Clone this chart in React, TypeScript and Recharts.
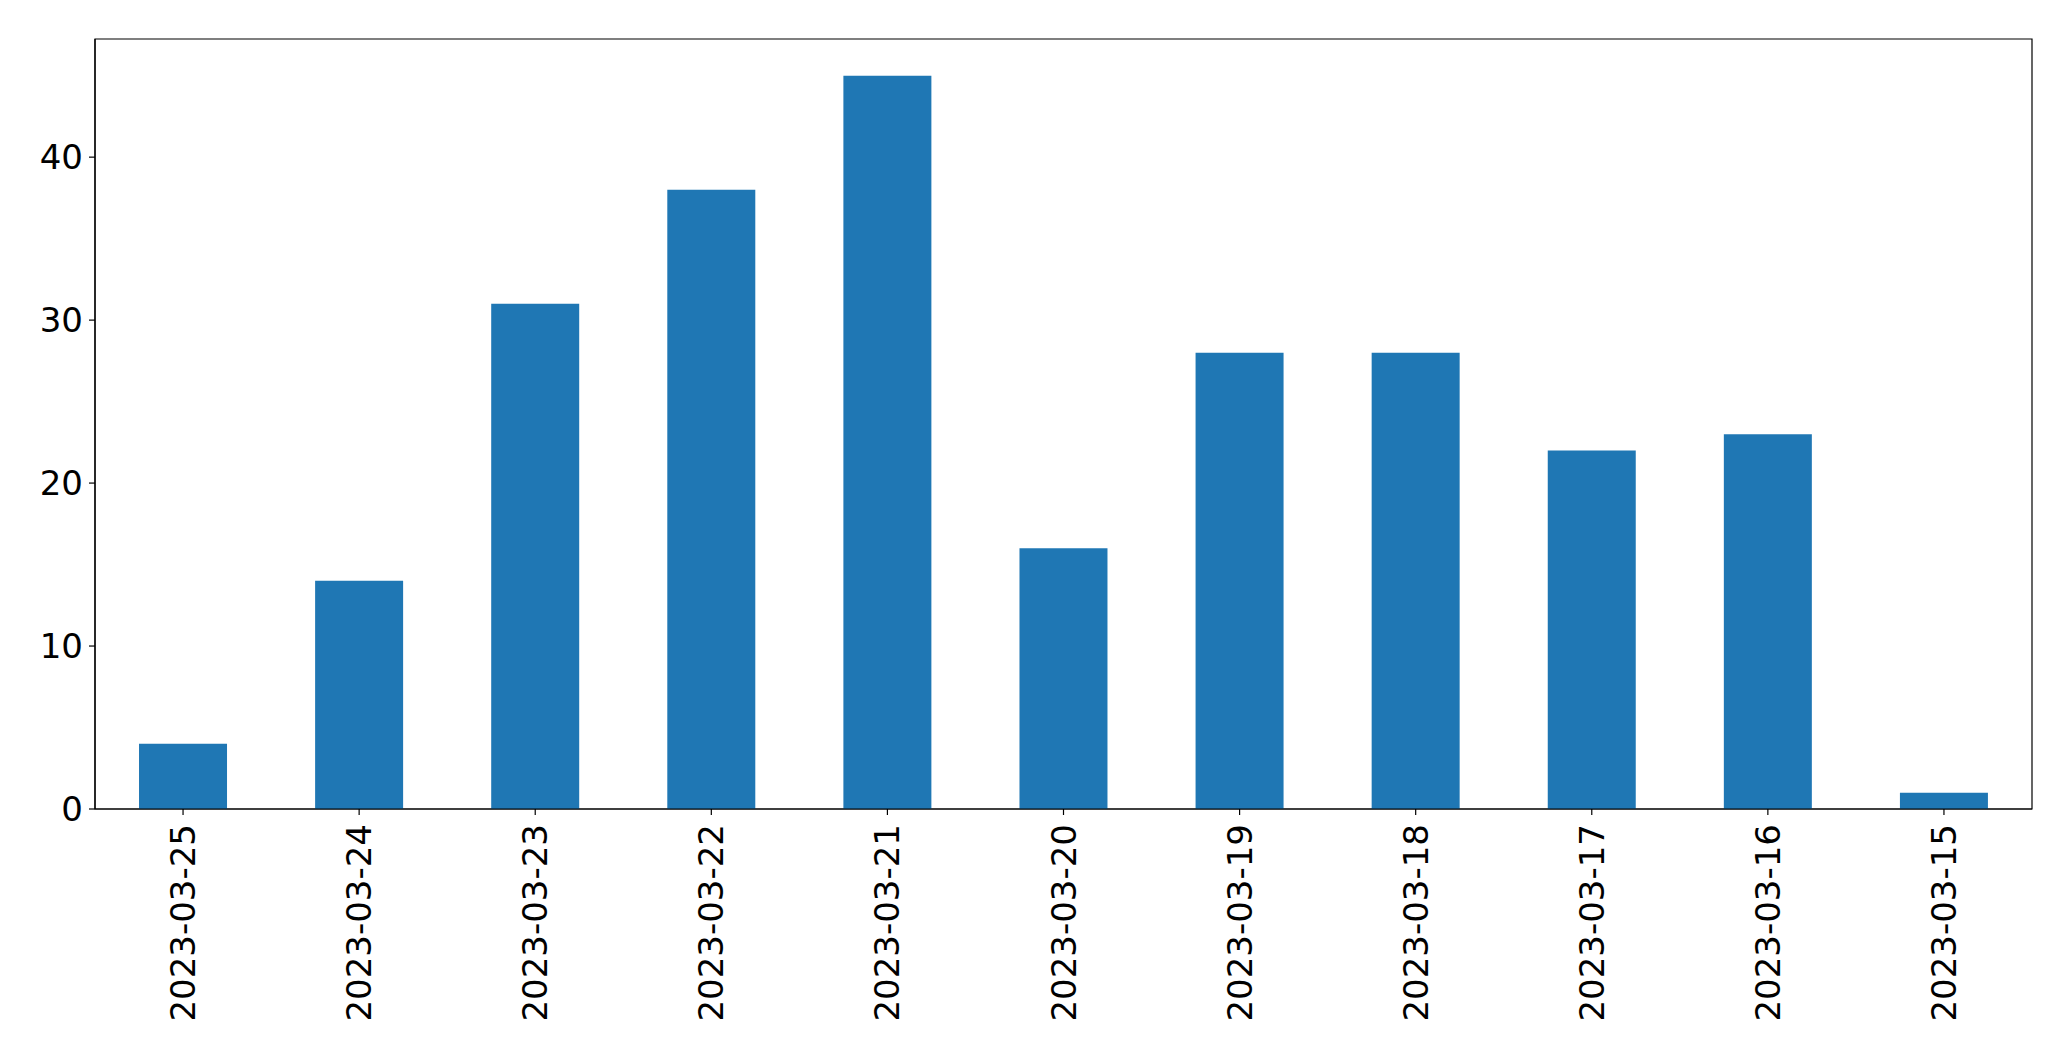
import React from 'react'
import { BarChart, Bar, XAxis, YAxis, ReferenceArea } from 'recharts'

// dates in the order they appear on the axis
const dates = [
  '2023-03-25',
  '2023-03-24',
  '2023-03-23',
  '2023-03-22',
  '2023-03-21',
  '2023-03-20',
  '2023-03-19',
  '2023-03-18',
  '2023-03-17',
  '2023-03-16',
  '2023-03-15',
]
const counts = [4, 14, 31, 38, 45, 16, 28, 28, 22, 23, 1]
const yTicks = [0, 10, 20, 30, 40]
const yMax = 47.25

const data = dates.map((date, i) => ({ date, count: counts[i] }))

const FONT = '"DejaVu Sans", sans-serif'
const BLUE = '#1f77b4'

function DateTick({ x, y, payload }: any) {
  return (
    <g transform={`translate(${x},${y})`}>
      <text
        transform="rotate(-90)"
        textAnchor="end"
        dy="0.355em"
        fontSize={34}
        fontFamily={FONT}
        fill="#000"
      >
        {payload.value}
      </text>
    </g>
  )
}

export default function App() {
  return (
    <div style={{ position: 'absolute', left: 0, top: 0, background: '#fff' }}>
      <BarChart
        width={2071}
        height={1061}
        data={data}
        margin={{ top: 39, right: 39, left: 0, bottom: 0 }}
        barCategoryGap="25%"
      >
        <XAxis
          dataKey="date"
          height={252}
          interval={0}
          tickSize={6}
          tickMargin={9}
          axisLine={{ stroke: '#000', strokeWidth: 1.2 }}
          tickLine={{ stroke: '#000', strokeWidth: 1.2 }}
          tick={<DateTick />}
        />
        <YAxis
          width={95}
          domain={[0, yMax]}
          ticks={yTicks}
          tickSize={6}
          tickMargin={6}
          axisLine={{ stroke: '#000', strokeWidth: 1.2 }}
          tickLine={{ stroke: '#000', strokeWidth: 1.2 }}
          tick={{ fontSize: 34, fontFamily: FONT, fill: '#000' }}
        />
        <Bar dataKey="count" fill={BLUE} isAnimationActive={false} />
        {/* frame around the plot area, like matplotlib's four spines */}
        <ReferenceArea
          x1={dates[0]}
          x2={dates[dates.length - 1]}
          y1={0}
          y2={yMax}
          fill="none"
          stroke="#000"
          strokeWidth={1.2}
          ifOverflow="visible"
        />
      </BarChart>
    </div>
  )
}
